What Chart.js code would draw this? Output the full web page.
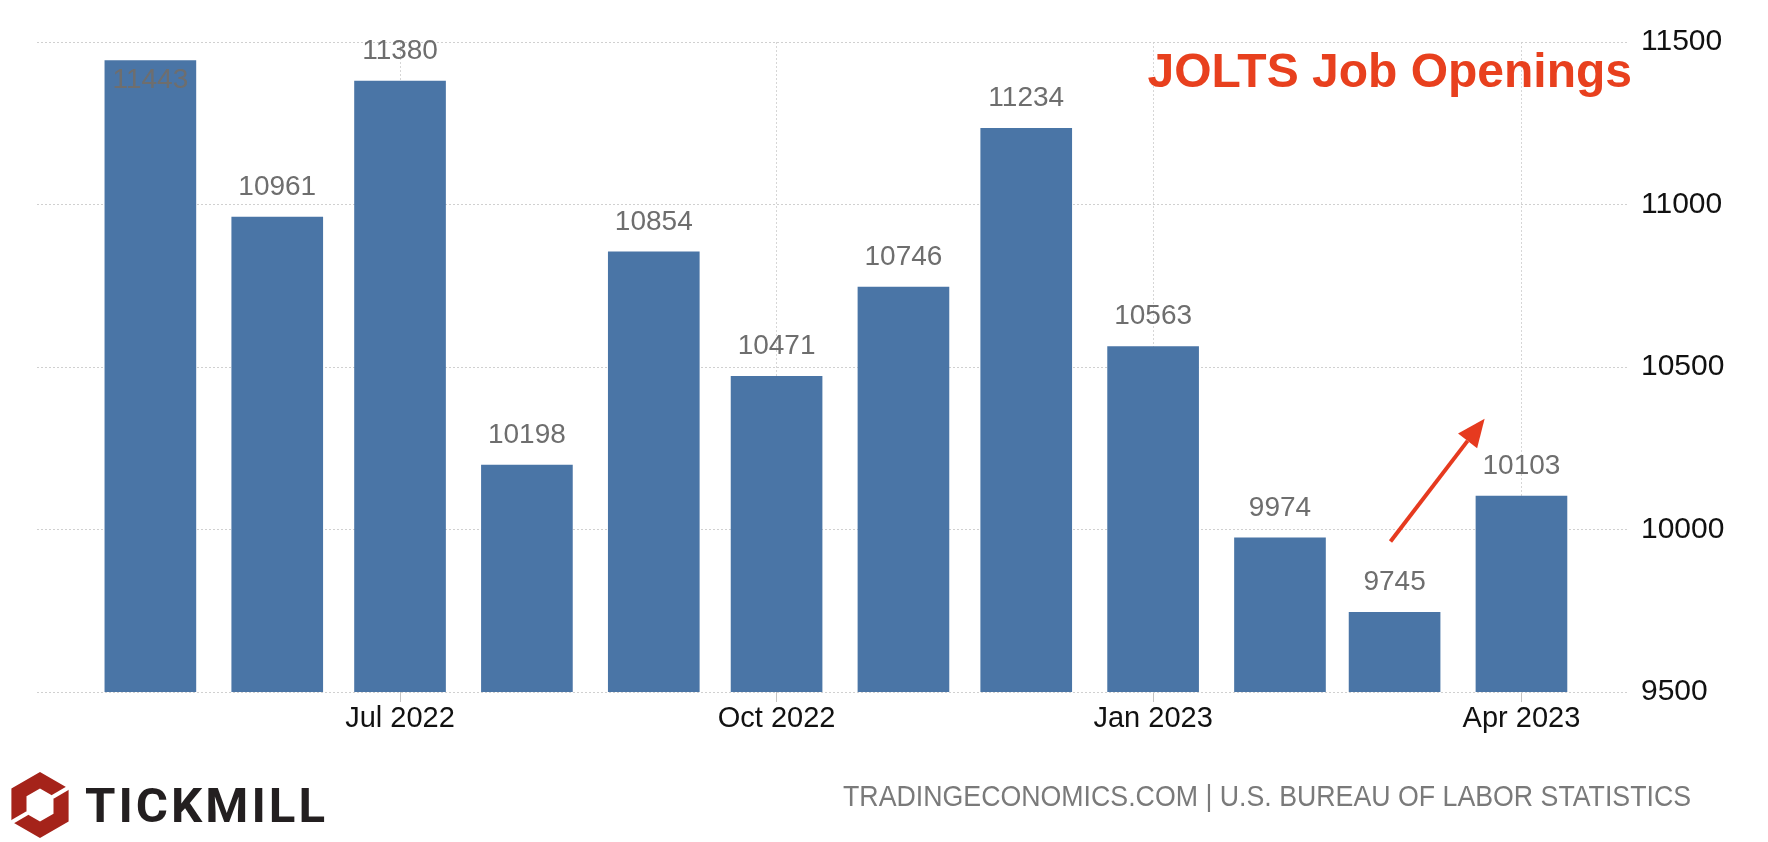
<!DOCTYPE html>
<html>
<head>
<meta charset="utf-8">
<title>JOLTS Job Openings</title>
<script src="https://cdn.jsdelivr.net/npm/chart.js@4.4.0/dist/chart.umd.min.js"></script>
<style>
  body { margin: 0; background: #fff; }
  #wrap { position: relative; width: 1768px; height: 842px; overflow: hidden; }
  #chart { position: absolute; left: 0; top: 0; }
  .title {
    position: absolute; right: 136px; top: 47px;
    font: bold 48px "Liberation Sans", Arial, sans-serif; line-height: 48px;
    color: #e8401e; white-space: nowrap;
  }
  .source {
    position: absolute; right: 77px; top: 782px;
    font: 29px "Liberation Sans", Arial, sans-serif; line-height: 29px;
    color: #7a7a7a; white-space: nowrap; transform-origin: right center;
  }
  .brand {
    position: absolute; left: 85px; top: 781px;
    font: bold 49px Roboto, "Liberation Sans", sans-serif; line-height: 49px;
    color: #231f20; white-space: nowrap; letter-spacing: 3px;
    transform-origin: left center;
  }
  .logo { position: absolute; left: 11px; top: 771px; }
</style>
</head>
<body>
<div id="wrap">
  <canvas id="chart" width="1768" height="842"></canvas>
  <div class="title">JOLTS Job Openings</div>
  <svg class="logo" width="60" height="68" viewBox="0 0 60 68">
    <path fill="#a5231a" fill-rule="evenodd"
      d="M29 1 L57.6 17.5 L57.6 50.5 L29 67 L0.4 50.5 L0.4 17.5 Z
         M29 17.5 L42.5 25.3 L42.5 42.7 L29 50.5 L15.5 42.7 L15.5 25.3 Z"/>
    <path stroke="#fff" stroke-width="4" d="M41.5 26 L58.6 16" />
    <path stroke="#fff" stroke-width="4" d="M16.5 42 L-0.6 52" />
  </svg>
  <div class="brand" id="brand">TICKMILL</div>
  <div class="source" id="source">TRADINGECONOMICS.COM | U.S. BUREAU OF LABOR STATISTICS</div>
</div>

<script>
  // Monthly JOLTS job openings (thousands)
  const months = ['2022-05', '2022-06', '2022-07', '2022-08', '2022-09', '2022-10',
                  '2022-11', '2022-12', '2023-01', '2023-02', '2023-03', '2023-04'];
  const openings = [11443, 10961, 11380, 10198, 10854, 10471, 10746, 11234, 10563, 9974, 9745, 10103];

  // Axis ticks
  const xTickMonths = ['2022-07', '2022-10', '2023-01', '2023-04'];
  const xTickLabels = ['Jul 2022', 'Oct 2022', 'Jan 2023', 'Apr 2023'];
  const yTicks = [9500, 10000, 10500, 11000, 11500];

  // Arrow annotation, in data coordinates
  const arrowFrom = { date: '2023-02-28', value: 9963 };
  const arrowTo = { date: '2023-03-23', value: 10341 };

  // days since epoch, so the x axis is a plain linear time line
  function toDay(s) {
    const p = s.split('-').map(Number);
    return Date.UTC(p[0], p[1] - 1, p[2] || 1) / 86400000;
  }

  const FONT = '"Liberation Sans", Arial, sans-serif';

  // value labels above bars (inside the bar when there is no room above)
  const valueLabels = {
    id: 'valueLabels',
    afterDatasetsDraw(chart) {
      const ctx = chart.ctx;
      const meta = chart.getDatasetMeta(0);
      ctx.save();
      ctx.font = '28px ' + FONT;
      ctx.fillStyle = '#6e6e6e';
      ctx.textAlign = 'center';
      ctx.textBaseline = 'middle';
      meta.data.forEach((bar, i) => {
        let y = bar.y - 30;
        if (y < chart.chartArea.top) y = bar.y + 20;
        ctx.fillText(String(openings[i]), bar.x, y);
      });
      ctx.restore();
    }
  };

  // red trend arrow
  const trendArrow = {
    id: 'trendArrow',
    afterDraw(chart) {
      const { ctx, scales: { x, y } } = chart;
      const x1 = x.getPixelForValue(toDay(arrowFrom.date));
      const y1 = y.getPixelForValue(arrowFrom.value);
      const x2 = x.getPixelForValue(toDay(arrowTo.date));
      const y2 = y.getPixelForValue(arrowTo.value);
      const ang = Math.atan2(y2 - y1, x2 - x1);
      const len = 28, half = 12;
      const bx = x2 - len * Math.cos(ang), by = y2 - len * Math.sin(ang);
      ctx.save();
      ctx.strokeStyle = '#e63a1f';
      ctx.fillStyle = '#e63a1f';
      ctx.lineWidth = 4;
      ctx.beginPath();
      ctx.moveTo(x1, y1);
      ctx.lineTo(bx, by);
      ctx.stroke();
      ctx.beginPath();
      ctx.moveTo(x2, y2);
      ctx.lineTo(bx + half * Math.sin(ang), by - half * Math.cos(ang));
      ctx.lineTo(bx - half * Math.sin(ang), by + half * Math.cos(ang));
      ctx.closePath();
      ctx.fill();
      ctx.restore();
    }
  };

  const pxPerDay = 4.0928;
  const xMin = toDay(months[0]) - 27.7;
  const xMax = xMin + (1628 - 37) / pxPerDay;

  new Chart(document.getElementById('chart'), {
    type: 'bar',
    data: {
      datasets: [{
        data: months.map((m, i) => ({ x: toDay(m), y: openings[i] })),
        backgroundColor: '#4a75a6',
        borderWidth: 0,
        barThickness: 91
      }]
    },
    options: {
      responsive: false,
      animation: false,
      layout: { padding: { left: 37, top: 42, right: 0, bottom: 0 } },
      plugins: { legend: { display: false }, tooltip: { enabled: false } },
      scales: {
        x: {
          type: 'linear',
          offset: false,
          min: xMin,
          max: xMax,
          afterBuildTicks(scale) {
            scale.ticks = xTickMonths.map(m => ({ value: toDay(m) }));
          },
          afterFit(scale) { scale.height = 150; },
          ticks: {
            autoSkip: false,
            maxRotation: 0,
            padding: 0,
            color: '#111',
            font: { family: FONT, size: 29 },
            callback: (v, i) => xTickLabels[i]
          },
          grid: {
            offset: false,
            color: '#d6d6d6',
            tickColor: '#c4c4c4',
            tickLength: 10,
            tickBorderDash: []
          },
          border: { display: false, dash: [2, 2] }
        },
        y: {
          position: 'right',
          min: 9500,
          max: 11500,
          afterBuildTicks(scale) {
            scale.ticks = yTicks.map(v => ({ value: v }));
          },
          afterFit(scale) { scale.width = 140; },
          ticks: {
            padding: 13,
            color: '#111',
            font: { family: FONT, size: 30 },
            callback: v => String(v)
          },
          grid: { color: '#d0d0d0', drawTicks: false },
          border: { display: false, dash: [2, 2] }
        }
      }
    },
    plugins: [valueLabels, trendArrow]
  });

  // squeeze footer texts to the widths seen in the picture
  function fitWidth(id, target) {
    const el = document.getElementById(id);
    el.style.transform = 'none';
    const w = el.getBoundingClientRect().width;
    if (w > 0) el.style.transform = 'scaleX(' + (target / w) + ')';
  }
  function fitAll() {
    fitWidth('source', 848);
    fitWidth('brand', 243);
  }
  fitAll();
  if (document.fonts) document.fonts.ready.then(fitAll);
</script>
</body>
</html>
